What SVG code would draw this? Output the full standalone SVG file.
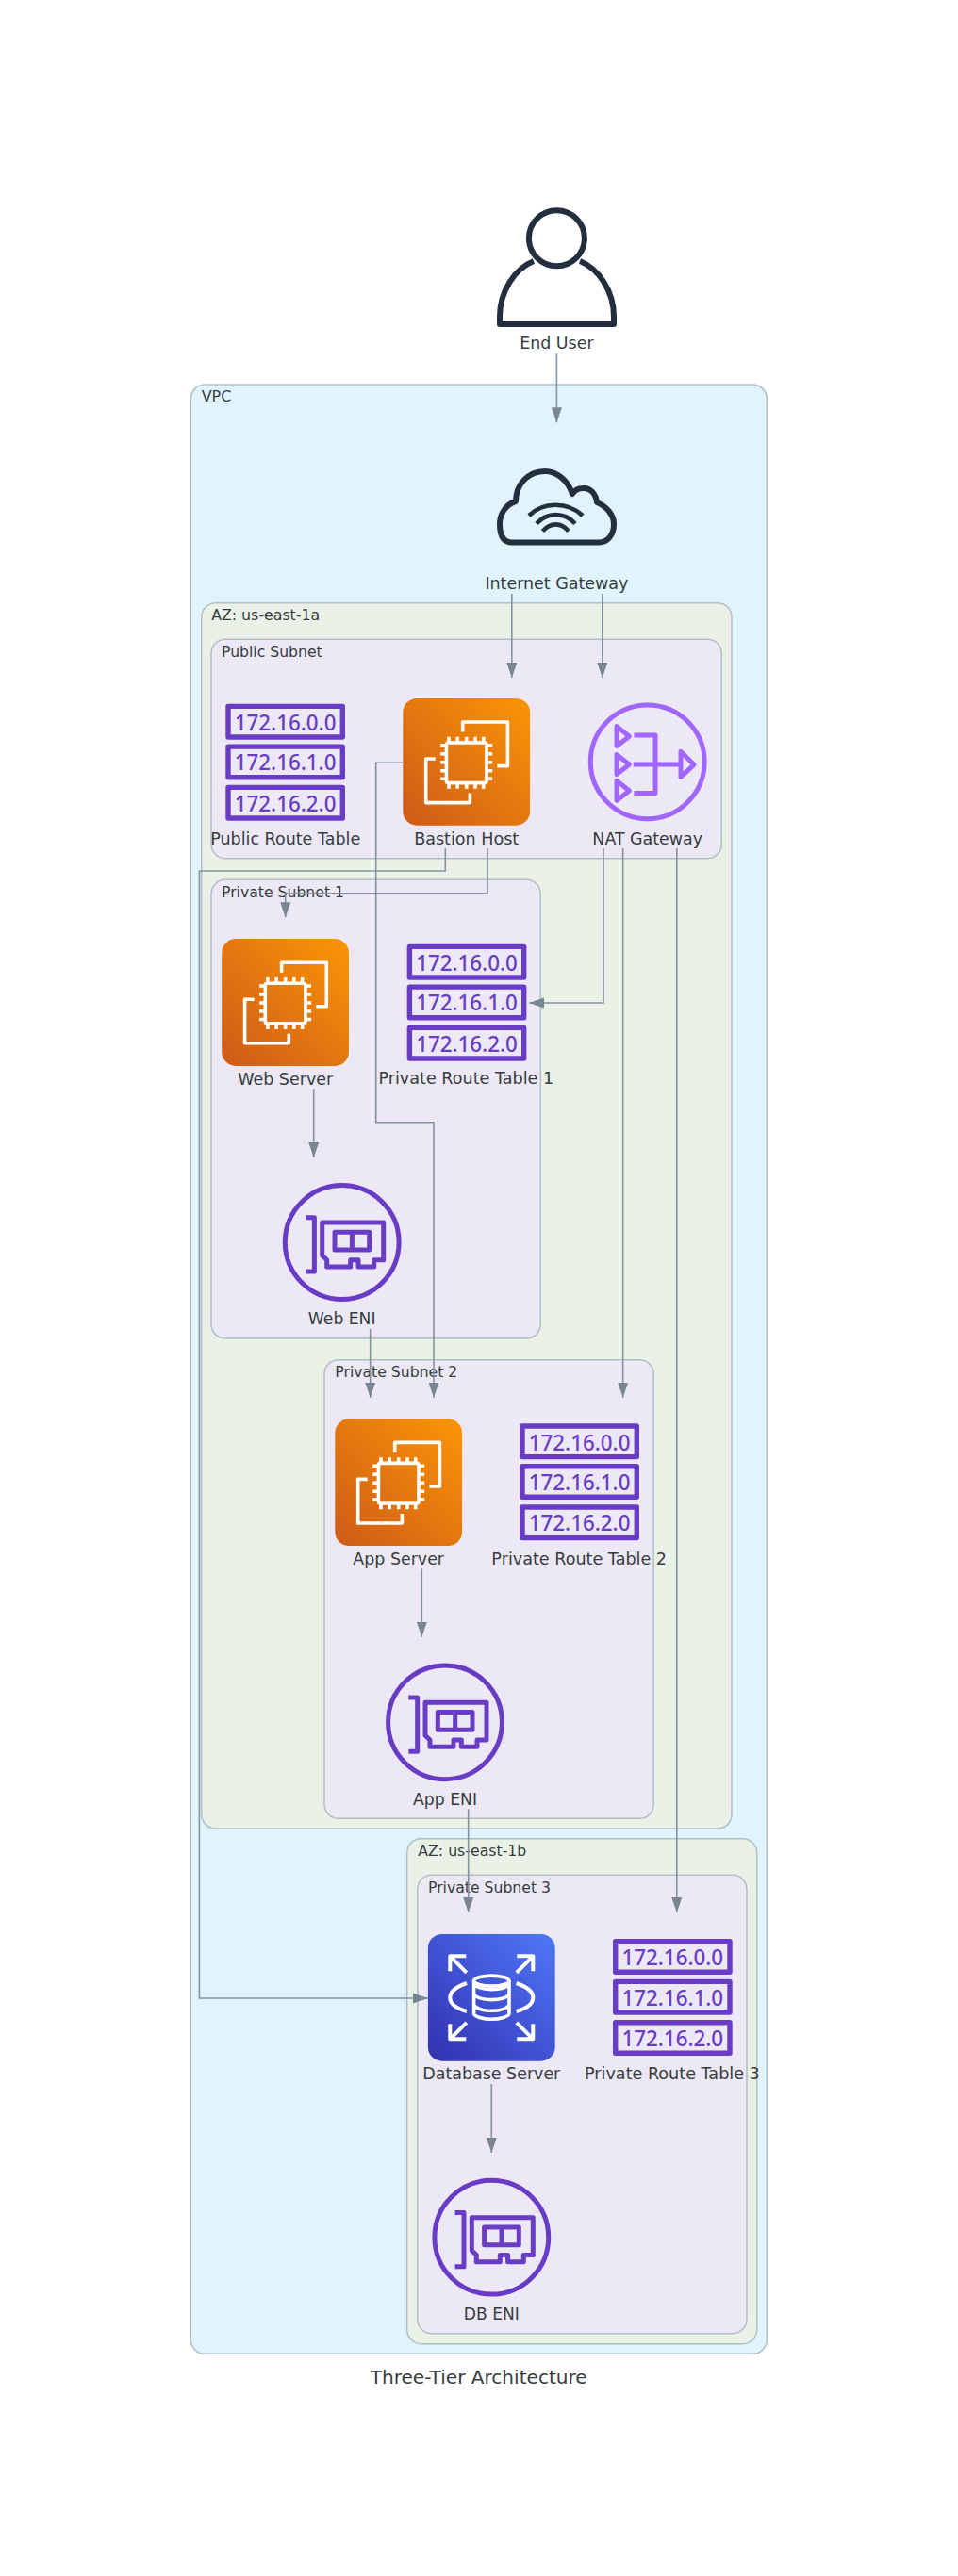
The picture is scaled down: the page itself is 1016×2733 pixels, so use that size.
<svg xmlns="http://www.w3.org/2000/svg" width="1016" height="2733" viewBox="0 0 1016 2733">
<style>
text{font-family:"DejaVu Sans",sans-serif;fill:#363C40}
.lbl{font-size:17px;text-anchor:middle}
.cl{font-size:15.6px}
.title{font-size:19.8px;text-anchor:middle}
.vpc{fill:#E1F4FD;stroke:#B0BEC5;stroke-width:1.5}
.az{fill:#EAF2E8;stroke:#B0BEC5;stroke-width:1.5}
.sn{fill:#ECE8F6;stroke:#B0BEC5;stroke-width:1.5}
.edge{fill:none;stroke:#85939E;stroke-width:1.6}
.head{fill:#78868F}
.w{fill:none;stroke:#fff;stroke-width:3.6;stroke-linejoin:round;stroke-linecap:butt}
.eni{fill:none;stroke:#693CC5;stroke-width:5;stroke-linejoin:round}
.nat{fill:none;stroke:#A166FF;stroke-width:5;stroke-linejoin:round}
.rtb{fill:none;stroke:#693CC5;stroke-width:5.4;stroke-linejoin:round}
.ip{font-family:"Noto Sans",sans-serif;font-size:23.6px;font-weight:500;fill:#693CC5;text-anchor:middle}
.dark{fill:none;stroke:#232F3E;stroke-width:6;stroke-linejoin:round}
.wifi{fill:none;stroke:#232F3E;stroke-width:4.6}
</style>
<defs>
<linearGradient id="gE" x1="0" y1="1" x2="1" y2="0"><stop offset="0" stop-color="#CE5A18"/><stop offset="1" stop-color="#FA9606"/></linearGradient>
<linearGradient id="gD" x1="0" y1="1" x2="1" y2="0"><stop offset="0" stop-color="#3230B0"/><stop offset="1" stop-color="#4F78F8"/></linearGradient>
<marker id="arr" markerUnits="userSpaceOnUse" markerWidth="16" markerHeight="12" refX="16" refY="6" orient="auto"><path class="head" d="M0,0.5 L16,6 L0,11.5 Z"/></marker>
<g id="ec2">
<rect x="-67.4" y="-67.4" width="134.8" height="134.8" rx="15" fill="url(#gE)"/>
<rect class="w" x="-21.3" y="-20.3" width="42.6" height="42.6" rx="2"/>
<path class="w" d="M-18.7,-20.5v-6M-9.5,-20.5v-6M0,-20.5v-6M9.3,-20.5v-6M18,-20.5v-6M-18.7,22.5v6M-9.5,22.5v6M0,22.5v6M9.3,22.5v6M18,22.5v6M-21.5,-17.5h-6M-21.5,-8.5h-6M-21.5,0.5h-6M-21.5,9.5h-6M-21.5,18h-6M21.5,-17.5h6M21.5,-8.5h6M21.5,0.5h6M21.5,9.5h6M21.5,18h6"/>
<path class="w" d="M-4,-31.7V-42.3H43.7V4.3H32.7M-33,-3.3H-43V43.3H3.7V33.3"/>
</g>
<g id="rds">
<rect x="-67.4" y="-67.4" width="134.8" height="134.8" rx="15" fill="url(#gD)"/>
<path class="w" style="stroke-width:4" d="M-26.5,-26.5L-44,-44M-44,-28V-44H-27M26.5,-26.5L44,-44M44,-28V-44H27M-26.5,26.5L-44,44M-44,28V44H-27M26.5,26.5L44,44M44,28V44H27"/>
<path class="w" style="stroke-width:4" d="M-26.3,-15.3C-36,-12 -44,-7 -44,0C-44,7 -36,12 -26.3,14.7M26.3,-15.3C36,-12 44,-7 44,0C44,7 36,12 26.3,14.7"/>
<ellipse class="w" cx="0" cy="-17.7" rx="18.7" ry="5.5"/>
<path class="w" d="M-18.7,-17.7V17C-18.7,20 -9,23 0,23C9,23 18.7,20 18.7,17V-17.7M-18.7,-14C-15,-10 -8,-8.7 0,-8.7C8,-8.7 15,-10 18.7,-14M-18.7,-3C-15,1 -8,2.3 0,2.3C8,2.3 15,1 18.7,-3M-18.7,8C-15,12.5 -8,14 0,14C8,14 15,12.5 18.7,8"/>
</g>
<g id="enic">
<circle class="eni" cx="0" cy="0" r="60.4"/>
<path class="eni" d="M-38.7,-26.3H-29.3V31H-38.7M-21,-21H44V18.7H34V26H17.3V18.7H9V26H-16V18.7L-21,14Z"/>
<rect class="eni" x="-7.7" y="-10.7" width="36.7" height="18.7"/>
<path class="eni" d="M10.7,-10.7V8"/>
</g>
</defs>

<g id="clusters">
<rect id="vpc" class="vpc" x="202.3" y="408" width="611" height="2089.3" rx="15"/>
<text class="cl" x="213.7" y="426" textLength="31.6" lengthAdjust="spacingAndGlyphs">VPC</text>
<rect id="az-1a" class="az" x="213.7" y="639.7" width="562.3" height="1300.3" rx="15"/>
<text class="cl" x="224.2" y="658.3" textLength="115" lengthAdjust="spacingAndGlyphs">AZ: us-east-1a</text>
<rect id="public-subnet" class="sn" x="224" y="678.3" width="541.3" height="232.4" rx="15"/>
<text class="cl" x="235" y="696.7" textLength="106.7" lengthAdjust="spacingAndGlyphs">Public Subnet</text>
<rect id="private-subnet-1" class="sn" x="224" y="933.3" width="349.3" height="486.7" rx="15"/>
<text class="cl" x="235" y="951.7" textLength="130" lengthAdjust="spacingAndGlyphs">Private Subnet 1</text>
<rect id="private-subnet-2" class="sn" x="344" y="1442.7" width="349.3" height="486.6" rx="15"/>
<text class="cl" x="355.3" y="1461" textLength="130" lengthAdjust="spacingAndGlyphs">Private Subnet 2</text>
<rect id="az-1b" class="az" x="431.7" y="1950.7" width="371" height="536" rx="15"/>
<text class="cl" x="443.3" y="1968.7" textLength="115" lengthAdjust="spacingAndGlyphs">AZ: us-east-1b</text>
<rect id="private-subnet-3" class="sn" x="442.7" y="1989.3" width="349.3" height="486.4" rx="15"/>
<text class="cl" x="454" y="2007.7" textLength="130" lengthAdjust="spacingAndGlyphs">Private Subnet 3</text>
</g>

<g id="connectors">
<path class="edge" marker-end="url(#arr)" d="M590.4,375V448.3"/>
<path class="edge" marker-end="url(#arr)" d="M542.8,630V719"/>
<path class="edge" marker-end="url(#arr)" d="M638.8,630V719"/>
<path class="edge" marker-end="url(#arr)" d="M472.3,900V924H211.4V2120H454"/>
<path class="edge" marker-end="url(#arr)" d="M517,900V947.7H302.7V973.3"/>
<path class="edge" marker-end="url(#arr)" d="M427.3,809.3H398.7V1190.7H460V1482.7"/>
<path class="edge" marker-end="url(#arr)" d="M640,900V1064H561"/>
<path class="edge" marker-end="url(#arr)" d="M660.7,900V1482.7"/>
<path class="edge" marker-end="url(#arr)" d="M717.8,900V2029"/>
<path class="edge" marker-end="url(#arr)" d="M332.7,1155.3V1228"/>
<path class="edge" marker-end="url(#arr)" d="M392.7,1410V1482.7"/>
<path class="edge" marker-end="url(#arr)" d="M447.3,1664.3V1736.7"/>
<path class="edge" marker-end="url(#arr)" d="M496.7,1919.3V2029"/>
<path class="edge" marker-end="url(#arr)" d="M521.3,2211V2284"/>
</g>

<g id="end-user">
<circle class="dark" cx="590.4" cy="252.7" r="29.5"/>
<path class="dark" d="M566,277C546,285 530,309 530,336V344H651V336C651,309 635,285 615,277"/>
<text class="lbl" x="590.4" y="370" textLength="78.3" lengthAdjust="spacingAndGlyphs">End User</text>
</g>
<g id="internet-gateway">
<path class="dark" transform="translate(-2,0)" d="M545,575.5H637C647,575.5 653,567 653,556C653,546 645,537 635,533C634,524 628,517 620,518C615,518 611,521 609,524C604,509 592,500 580,500C562,500 549,514 549,532C538,535 532,546 532,556C532,567 535,575.5 545,575.5Z"/>
<path class="wifi" transform="translate(-2,0)" d="M563,547C578,532 604,532 620,547M571,555.5C582,543 601,543 612,555.5M577.5,563.5C586,554 597,554 605,563.5"/>
<text class="lbl" x="590.4" y="625" textLength="152" lengthAdjust="spacingAndGlyphs">Internet Gateway</text>
</g>

<g id="public-route-table" transform="translate(239.3,746.7)">
<rect class="rtb" x="2.7" y="2.7" width="121.3" height="32.6"/><rect class="rtb" x="2.7" y="45.4" width="121.3" height="32.6"/><rect class="rtb" x="2.7" y="88.7" width="121.3" height="32.6"/>
<text class="ip" x="63.3" y="28.3" textLength="107.7" lengthAdjust="spacingAndGlyphs">172.16.0.0</text>
<text class="ip" x="63.3" y="70.8" textLength="107.7" lengthAdjust="spacingAndGlyphs">172.16.1.0</text>
<text class="ip" x="63.3" y="114" textLength="107.7" lengthAdjust="spacingAndGlyphs">172.16.2.0</text>
<text class="lbl" x="63.4" y="149.3" textLength="159" lengthAdjust="spacingAndGlyphs">Public Route Table</text>
</g>
<g id="bastion-host"><use href="#ec2" x="494.7" y="808.3"/><text class="lbl" x="494.7" y="896" textLength="111" lengthAdjust="spacingAndGlyphs">Bastion Host</text></g>
<g id="nat-gateway" transform="translate(686.7,808.3)">
<circle class="nat" cx="0" cy="0" r="60.4"/>
<path class="nat" d="M-32.7,-37.7L-19.3,-27L-32.7,-16.7ZM-32.7,-7.7L-19.3,2.7L-32.7,13.3ZM-32.7,20L-19.3,30.7L-32.7,41ZM35.3,-11L49.3,3L35.3,16ZM-14.3,-28.3H8.3V33.3H-14.3M-15,2.7H35.3"/>
<text class="lbl" x="0" y="87.7" textLength="116.7" lengthAdjust="spacingAndGlyphs">NAT Gateway</text>
</g>

<g id="web-server"><use href="#ec2" x="302.6" y="1063.5"/><text class="lbl" x="302.7" y="1150.5" textLength="101" lengthAdjust="spacingAndGlyphs">Web Server</text></g>
<g id="private-route-table-1" transform="translate(431.7,1001.7)">
<rect class="rtb" x="2.7" y="2.7" width="121.3" height="32.6"/><rect class="rtb" x="2.7" y="45.4" width="121.3" height="32.6"/><rect class="rtb" x="2.7" y="88.7" width="121.3" height="32.6"/>
<text class="ip" x="63.3" y="28.3" textLength="107.7" lengthAdjust="spacingAndGlyphs">172.16.0.0</text>
<text class="ip" x="63.3" y="70.8" textLength="107.7" lengthAdjust="spacingAndGlyphs">172.16.1.0</text>
<text class="ip" x="63.3" y="114" textLength="107.7" lengthAdjust="spacingAndGlyphs">172.16.2.0</text>
<text class="lbl" x="62.6" y="148.8" textLength="185.7" lengthAdjust="spacingAndGlyphs">Private Route Table 1</text>
</g>
<g id="web-eni"><use href="#enic" x="362.7" y="1318"/><text class="lbl" x="362.7" y="1405" textLength="71.7" lengthAdjust="spacingAndGlyphs">Web ENI</text></g>

<g id="app-server"><use href="#ec2" x="422.7" y="1572.7"/><text class="lbl" x="422.7" y="1659.7" textLength="96.7" lengthAdjust="spacingAndGlyphs">App Server</text></g>
<g id="private-route-table-2" transform="translate(551.3,1510.3)">
<rect class="rtb" x="2.7" y="2.7" width="121.3" height="32.6"/><rect class="rtb" x="2.7" y="45.4" width="121.3" height="32.6"/><rect class="rtb" x="2.7" y="88.7" width="121.3" height="32.6"/>
<text class="ip" x="63.3" y="28.3" textLength="107.7" lengthAdjust="spacingAndGlyphs">172.16.0.0</text>
<text class="ip" x="63.3" y="70.8" textLength="107.7" lengthAdjust="spacingAndGlyphs">172.16.1.0</text>
<text class="ip" x="63.3" y="114" textLength="107.7" lengthAdjust="spacingAndGlyphs">172.16.2.0</text>
<text class="lbl" x="62.9" y="149.4" textLength="185.7" lengthAdjust="spacingAndGlyphs">Private Route Table 2</text>
</g>
<g id="app-eni"><use href="#enic" x="472" y="1827.3"/><text class="lbl" x="472" y="1914.5" textLength="68" lengthAdjust="spacingAndGlyphs">App ENI</text></g>

<g id="database-server"><use href="#rds" x="521.3" y="2119.3"/><text class="lbl" x="521.3" y="2206.3" textLength="146" lengthAdjust="spacingAndGlyphs">Database Server</text></g>
<g id="private-route-table-3" transform="translate(650,2057)">
<rect class="rtb" x="2.7" y="2.7" width="121.3" height="32.6"/><rect class="rtb" x="2.7" y="45.4" width="121.3" height="32.6"/><rect class="rtb" x="2.7" y="88.7" width="121.3" height="32.6"/>
<text class="ip" x="63.3" y="28.3" textLength="107.7" lengthAdjust="spacingAndGlyphs">172.16.0.0</text>
<text class="ip" x="63.3" y="70.8" textLength="107.7" lengthAdjust="spacingAndGlyphs">172.16.1.0</text>
<text class="ip" x="63.3" y="114" textLength="107.7" lengthAdjust="spacingAndGlyphs">172.16.2.0</text>
<text class="lbl" x="62.9" y="149.3" textLength="185.7" lengthAdjust="spacingAndGlyphs">Private Route Table 3</text>
</g>
<g id="db-eni"><use href="#enic" x="521.3" y="2373.7"/><text class="lbl" x="521.3" y="2461" textLength="59" lengthAdjust="spacingAndGlyphs">DB ENI</text></g>

<text class="title" x="507.7" y="2529" textLength="230" lengthAdjust="spacingAndGlyphs">Three-Tier Architecture</text>
</svg>
